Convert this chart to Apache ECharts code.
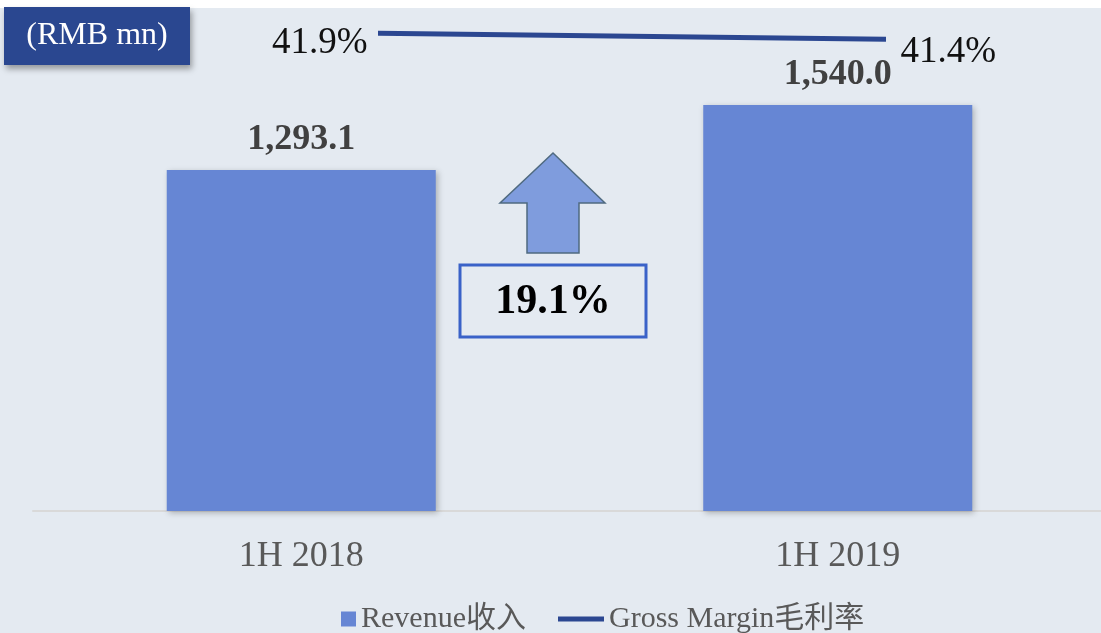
<!DOCTYPE html>
<html>
<head>
<meta charset="utf-8">
<title>Revenue / Gross Margin</title>
<script src="https://cdn.jsdelivr.net/npm/echarts@6/dist/echarts.min.js"></script>
<style>
    html, body { margin: 0; padding: 0; background: #fff; overflow: hidden; }
    /* 比窗口宽几像素，右边那根柱子才能放到原图的位置 */
    #main { width: 1106px; height: 633px; }
</style>
</head>
<body>
<div id="main"></div>
<script>
    // data
    const categories = ['1H 2018', '1H 2019'];
    const revenue = [1293.1, 1540.0];
    const grossMargin = [41.9, 41.4];
    const unitLabel = '(RMB mn)';

    const serif = '"Liberation Serif", "Times New Roman", "Noto Sans CJK SC", serif';
    const fmt = v => v.toLocaleString('en-US', {minimumFractionDigits: 1, maximumFractionDigits: 1});
    // growth from the two revenue values
    const growth = ((revenue[1] / revenue[0] - 1) * 100).toFixed(1) + '%';

    const chart = echarts.init(document.getElementById('main'));

    chart.setOption({
        backgroundColor: '#E4EAF1',
        animation: false,
        grid: [
            {left: 33, right: 0, top: 10, height: 501},
            // 折线单独一个grid，位置跟原图对上
            {left: 378, right: 220, top: 20, height: 48}
        ],
        xAxis: [{
            type: 'category',
            gridIndex: 0,
            data: categories,
            axisTick: {show: false},
            axisLine: {lineStyle: {color: '#D9D9D9', width: 2}},
            axisLabel: {color: '#595959', fontFamily: serif, fontSize: 36, margin: 28}
        }, {
            type: 'category',
            gridIndex: 1,
            data: categories,
            boundaryGap: false,
            show: false
        }],
        yAxis: [{
            type: 'value',
            gridIndex: 0,
            min: 0,
            max: 1900,
            show: false,
            splitLine: {show: false}
        }, {
            type: 'value',
            gridIndex: 1,
            min: 39,
            max: 43,
            show: false,
            splitLine: {show: false}
        }],
        legend: [{
            data: ['Revenue收入'],
            left: 336,
            top: 599,
            icon: 'rect',
            itemWidth: 15,
            itemHeight: 15,
            textStyle: {color: '#595959', fontFamily: serif, fontSize: 30}
        }, {
            data: ['Gross Margin毛利率'],
            left: 553,
            top: 599,
            icon: 'rect',
            itemWidth: 46,
            itemHeight: 5,
            itemStyle: {color: '#2B4791'},
            textStyle: {color: '#595959', fontFamily: serif, fontSize: 30}
        }],
        series: [{
            name: 'Revenue收入',
            type: 'bar',
            xAxisIndex: 0,
            yAxisIndex: 0,
            data: revenue,
            barWidth: 269,
            itemStyle: {
                color: '#6686D4',
                shadowColor: 'rgba(0,0,0,0.25)',
                shadowBlur: 6,
                shadowOffsetX: 2,
                shadowOffsetY: 2
            },
            label: {
                show: true,
                position: 'top',
                distance: 12,
                color: '#404040',
                fontFamily: serif,
                fontSize: 36,
                fontWeight: 'bold',
                formatter: p => fmt(p.value)
            }
        }, {
            name: 'Gross Margin毛利率',
            type: 'line',
            xAxisIndex: 1,
            yAxisIndex: 1,
            // symbol:'none'的时候label出不来，点做成透明
            symbol: 'circle',
            symbolSize: 1,
            showSymbol: true,
            lineStyle: {color: '#2B4791', width: 5},
            itemStyle: {color: '#2B4791'},
            label: {
                show: true,
                color: '#111',
                fontFamily: serif,
                fontSize: 37,
                formatter: p => p.value.toFixed(1) + '%'
            },
            data: [
                {value: grossMargin[0], itemStyle: {color: 'transparent'}, label: {position: 'left', distance: 10, offset: [0, 10]}},
                {value: grossMargin[1], itemStyle: {color: 'transparent'}, label: {position: 'right', distance: 14, offset: [0, 13]}}
            ]
        }],
        graphic: [
            {type: 'rect', left: 0, top: 0, shape: {width: 1106, height: 8}, style: {fill: '#fff'}, z: 0},
            {
                type: 'group', left: 4, top: 7, z: 10,
                children: [
                    {
                        type: 'rect',
                        shape: {width: 186, height: 58},
                        style: {fill: '#2A4790', shadowColor: 'rgba(0,0,0,0.35)', shadowBlur: 6, shadowOffsetX: 2, shadowOffsetY: 4}
                    },
                    {
                        type: 'text',
                        x: 93, y: 29,
                        style: {text: unitLabel, fill: '#fff', font: '32px ' + serif, align: 'center', verticalAlign: 'middle'}
                    }
                ]
            },
            // 上箭头
            {
                type: 'polygon', z: 10,
                shape: {points: [[553, 153], [605, 203], [579, 203], [579, 253], [527, 253], [527, 203], [500, 203]]},
                style: {fill: '#7F9CDD', stroke: '#4F6A80', lineWidth: 1.5}
            },
            {
                type: 'rect', z: 10,
                shape: {x: 460, y: 265, width: 186, height: 72},
                style: {fill: 'transparent', stroke: '#3A62C8', lineWidth: 3}
            },
            {
                type: 'text', z: 11,
                x: 553, y: 302,
                style: {text: growth, fill: '#000', font: 'bold 42px ' + serif, align: 'center', verticalAlign: 'middle'}
            }
        ]
    });
</script>
</body>
</html>
